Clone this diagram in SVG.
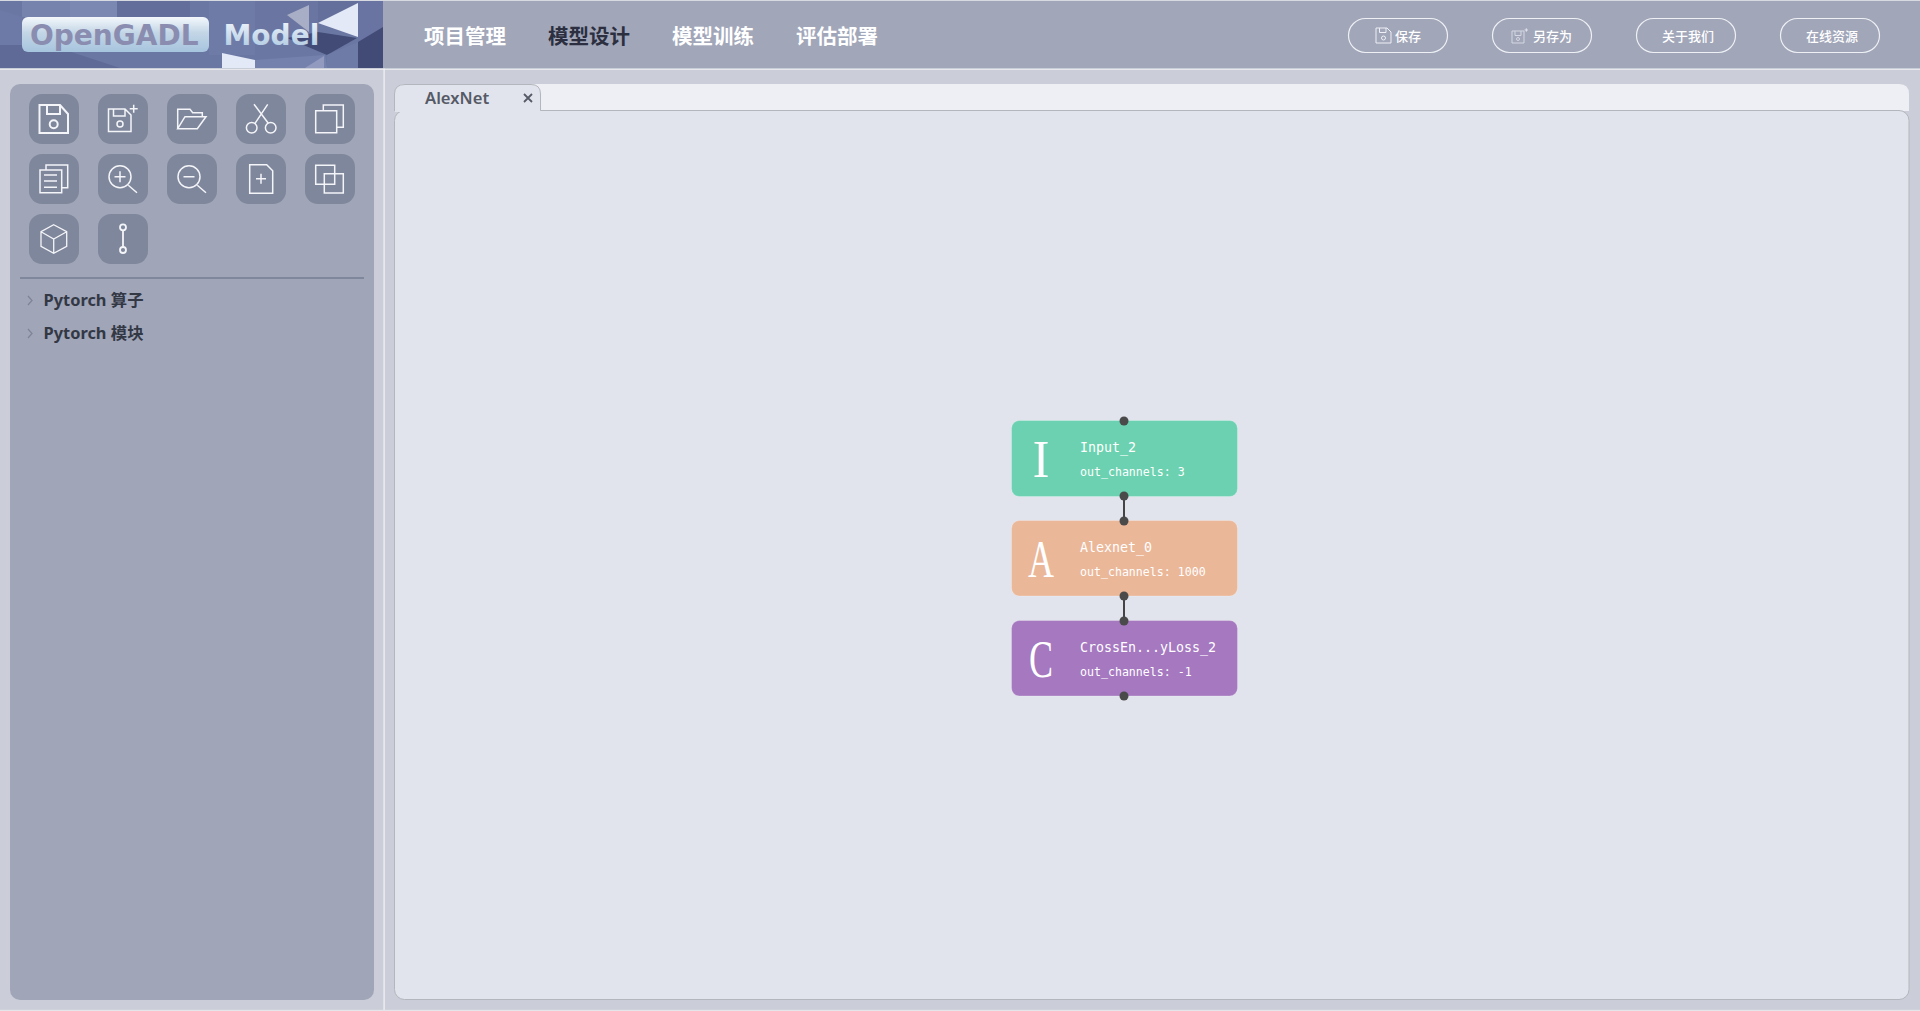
<svg xmlns="http://www.w3.org/2000/svg" width="1920" height="1011" viewBox="0 0 1920 1011">
<style>
.ui{font-family:"Noto Sans","Noto Sans CJK SC",sans-serif}
.cjk{font-family:"Noto Sans CJK SC",sans-serif}
.nav{font-size:20.5px;font-weight:700;fill:#fff}
.btn{fill:none;stroke:#eef0f5;stroke-width:1.2}
.btxt{font-size:13px;font-weight:500;fill:#fff}
.tb{fill:#7f879c}
.ic{fill:none;stroke:#f4f5f8;stroke-width:1.5}
.tree{font-size:16.400px;font-weight:700;fill:#333845}
.nm{font-family:"DejaVu Sans Mono",monospace;font-size:13.3px;fill:#fff}
.ch{font-family:"DejaVu Sans Mono",monospace;font-size:11.6px;fill:#fff}
.big{font-family:"Liberation Serif",serif;font-size:50px;fill:#fff;text-anchor:middle}
.pt{fill:#4a4a4a}
.nb{stroke-opacity:.25;stroke:#fff;stroke-width:1}
</style>
<defs>
<linearGradient id="pill" x1="0" y1="0" x2="0" y2="1"><stop offset="0" stop-color="#f4f8fc"/><stop offset=".45" stop-color="#c3d6e6"/><stop offset="1" stop-color="#a6c4de"/></linearGradient>
<linearGradient id="mdl" x1="0" y1="0" x2="0" y2="1"><stop offset="0" stop-color="#f2f6fb"/><stop offset="1" stop-color="#a9c6e0"/></linearGradient>
</defs>
<rect width="1920" height="1011" fill="#cbced8"/>
<rect x="0" y="0" width="1920" height="69" fill="#a1a6b9"/>
<rect x="0" y="0" width="1920" height="1" fill="#d8dae2"/>
<rect x="0" y="68.500" width="1920" height="1.200" fill="#f2f3f6"/>
<rect x="383.500" y="68.500" width="1.200" height="942.500" fill="#f2f3f6"/>
<rect x="0" y="1009.800" width="1920" height="1.200" fill="#e4e5ea"/>

<g id="logo">
<rect x="0" y="1" width="383" height="67" fill="#6b77a3"/>
<polygon points="22,1 117,1 117,17 22,17" fill="#7683ad"/>
<polygon points="70,1 117,1 117,17 70,17" fill="#7b88b2"/>
<polygon points="117,1 190,1 190,17 117,17" fill="#646e9a"/>
<polygon points="0,10 22,17 22,45 0,45" fill="#6d79a6"/>
<polygon points="0,45 50,45 120,68 0,68" fill="#5f6a96"/>
<polygon points="209,1 255,1 255,55 209,55" fill="#6f7ba7"/>
<polygon points="255,1 318,1 318,23 287,38 255,38" fill="#6a76a1"/>
<polygon points="318,1 358,1 358,3 318,23" fill="#646f9b"/>
<polygon points="358,1 383,1 383,27 358,42" fill="#6a74a2"/>
<polygon points="255,60 325,55 327,68 255,68" fill="#7581ad"/>
<polygon points="287,15 309,5 309,32" fill="#a8aec6"/>
<polygon points="318,23 358,3 358,37" fill="#e3e9f7"/>
<polygon points="318,32 357,38 327,55 287,38" fill="#424b75"/>
<polygon points="358,68 358,42 383,27 383,68" fill="#424b75"/>
<polygon points="327,55 358,42 358,68 327,68" fill="#6f7ba7"/>
<polygon points="305,68 324,56 324,68" fill="#929ac0"/>
<polygon points="222,53 255,60 255,68 222,68" fill="#e3e9f7"/>
<rect x="22" y="17" width="187" height="35" rx="6" fill="url(#pill)"/>
<text x="30" y="45" font-family="DejaVu Sans,sans-serif" font-weight="700" font-size="28" fill="#8a8db0">OpenGADL</text>
<text x="223.500" y="44.500" font-family="DejaVu Sans,sans-serif" font-weight="700" font-size="28" fill="url(#mdl)">Model</text>
</g>

<g id="nav" class="cjk">
<text class="nav" x="424" y="43.500">项目管理</text>
<text class="nav" x="548" y="43.500" style="fill:#2b2f40">模型设计</text>
<text class="nav" x="672" y="43.500">模型训练</text>
<text class="nav" x="796" y="43.500">评估部署</text>
</g>

<g id="header-buttons" class="cjk">
<g id="btn-save"><rect class="btn" x="1348.500" y="18.500" width="99" height="34" rx="17"/>
<path d="M1376 28H1387L1391 32V43H1376ZM1379.500 28V32.500H1386V28" fill="none" stroke="#eef0f5" stroke-width="1"/><circle cx="1383.500" cy="38" r="2" fill="none" stroke="#eef0f5"/>
<text class="btxt" x="1395" y="41">保存</text></g>
<g id="btn-saveas"><rect class="btn" x="1492.500" y="18.500" width="99" height="34" rx="17"/>
<path d="M1512 31H1524V43H1512ZM1515 31V35.500H1521V31" fill="none" stroke="#d5d8e2" stroke-width="1"/><path d="M1524.500 30H1528M1526.300 28.300V31.800" stroke="#eef0f5" stroke-width=".8"/><circle cx="1518" cy="39" r="1.500" fill="none" stroke="#d5d8e2"/>
<text class="btxt" x="1533" y="41">另存为</text></g>
<g id="btn-about"><rect class="btn" x="1636.500" y="18.500" width="99" height="34" rx="17"/>
<text class="btxt" x="1662" y="41">关于我们</text></g>
<g id="btn-online"><rect class="btn" x="1780.500" y="18.500" width="99" height="34" rx="17"/>
<text class="btxt" x="1806" y="41">在线资源</text></g>
</g>

<g id="sidebar">
<rect x="10" y="84" width="364" height="916" rx="10" fill="#a0a5b8"/>
<g id="tool-save" transform="translate(29,94)"><rect class="tb" width="50" height="50" rx="13"/><path class="ic" style="stroke-width:2" d="M10.500 11H31L39 20V39H10.500ZM18 11V20H31V11"/><circle class="ic" style="stroke-width:2" cx="24.700" cy="30.300" r="4"/></g>
<g id="tool-saveas" transform="translate(98,94)"><rect class="tb" width="50" height="50" rx="13"/><path class="ic" d="M10.500 15H27L33 21V37.500H10.500ZM15.500 15V22H27V15M31.700 14.700H39.700M35.700 10.700V18.700"/><circle class="ic" cx="22" cy="30" r="3"/></g>
<g id="tool-open" transform="translate(167,94)"><rect class="tb" width="50" height="50" rx="13"/><path class="ic" d="M10.700 34.700V15.300H23L25.700 18.700H35.300V22.700M10.700 34.700L18 22.700H39L30.300 34.700Z"/></g>
<g id="tool-cut" transform="translate(236,94)"><rect class="tb" width="50" height="50" rx="13"/><circle class="ic" cx="15.700" cy="33.700" r="5.300"/><circle class="ic" cx="34.700" cy="33.700" r="5.300"/><path class="ic" d="M18 10.300L32.300 29.300M31.700 10.300L19 29.300"/></g>
<g id="tool-copy" transform="translate(305,94)"><rect class="tb" width="50" height="50" rx="13"/><path class="ic" d="M10.700 16.700H31.700V38.700H10.700ZM18.300 16.700V11H38.300V33.300H31.700"/></g>
<g id="tool-paste" transform="translate(29,154)"><rect class="tb" width="50" height="50" rx="13"/><path class="ic" d="M11 16H32.700V38.700H11ZM17 16V11H38.700V33.700H32.700M15 21H28M15 27H28M15 33.300H28"/></g>
<g id="tool-zoomin" transform="translate(98,154)"><rect class="tb" width="50" height="50" rx="13"/><circle class="ic" cx="22" cy="22.700" r="11"/><path class="ic" d="M16.500 22.700H27.500M22 17.200V28.200M30.300 31.300L39 38.700"/></g>
<g id="tool-zoomout" transform="translate(167,154)"><rect class="tb" width="50" height="50" rx="13"/><circle class="ic" cx="22" cy="22.700" r="11"/><path class="ic" d="M16.500 22.700H27.500M30.300 31.300L39 38.700"/></g>
<g id="tool-new" transform="translate(236,154)"><rect class="tb" width="50" height="50" rx="13"/><path class="ic" d="M13.700 10.700H30.700L36.700 16.700V39.300H13.700ZM20 24.700H30M25 19.700V29.700"/></g>
<g id="tool-clone" transform="translate(305,154)"><rect class="tb" width="50" height="50" rx="13"/><path class="ic" d="M10.700 11.300H29.700V30.300H10.700ZM19.300 19.700H38.300V39H19.300Z"/></g>
<g id="tool-node" transform="translate(29,214)"><rect class="tb" width="50" height="50" rx="13"/><path class="ic" style="stroke-width:1.300" d="M24.700 10.700L37.700 17.700V32.300L24.700 39.300L12 32.300V17.700ZM12 17.700L24.700 25L37.700 17.700M24.700 25V39.300"/></g>
<g id="tool-link" transform="translate(98,214)"><rect class="tb" width="50" height="50" rx="13"/><path class="ic" style="stroke-width:1.800" d="M25 16.300V33"/><circle class="ic" style="stroke-width:1.800" cx="25" cy="13.300" r="3"/><circle class="ic" style="stroke-width:1.800" cx="25" cy="36" r="3"/></g>
<rect x="20" y="277" width="344" height="2" fill="#7f879c"/>
<path d="M28 296L32 300.500L28 305" fill="none" stroke="#7f8494" stroke-width="1.200"/>
<path d="M28 329L32 333.500L28 338" fill="none" stroke="#7f8494" stroke-width="1.200"/>
<text class="tree ui" x="43.500" y="306">Pytorch 算子</text>
<text class="tree ui" x="43.500" y="339">Pytorch 模块</text>
</g>

<g id="workspace">
<path d="M405 84H1899Q1909 84 1909 94V111H395V94Q395 84 405 84Z" fill="#eeeff4"/>
<rect x="394.500" y="110.500" width="1514.500" height="889" rx="10" fill="#e1e4ed" stroke="#b4b6bd" stroke-width="1"/>
<path d="M394.500 111V94Q394.500 84.500 405 84.500H531Q540.500 84.500 540.500 94V110.500" fill="#e1e4ed" stroke="#b4b6bd" stroke-width="1"/>
<rect x="395" y="108" width="145" height="4" fill="#e1e4ed"/>
<text class="ui" x="425" y="104" font-size="16.600" font-weight="600" fill="#555a66">AlexNet</text>
<path d="M524 94L532 102M532 94L524 102" stroke="#555a66" stroke-width="1.800"/>
</g>

<g id="connectors" stroke="#444" stroke-width="2" fill="none">
<path d="M1124 496V521"/>
<path d="M1124 596V621"/>
</g>

<g id="node-input">
<rect class="nb" x="1011.500" y="420.500" width="226" height="76" rx="8" fill="#6bd1b0"/>
<text class="big" transform="translate(1041,476.500) scale(1,1.050)">I</text>
<text class="nm" x="1080" y="452">Input_2</text>
<text class="ch" x="1080" y="476">out_channels: 3</text>
<circle class="pt" cx="1124" cy="421" r="4.500"/><circle class="pt" cx="1124" cy="496" r="4.500"/>
</g>
<g id="node-alexnet">
<rect class="nb" x="1011.500" y="520.500" width="226" height="75.500" rx="8" fill="#ebb799"/>
<text class="big" transform="translate(1041,576.500) scale(.72,1.050)">A</text>
<text class="nm" x="1080" y="552">Alexnet_0</text>
<text class="ch" x="1080" y="576">out_channels: 1000</text>
<circle class="pt" cx="1124" cy="521" r="4.500"/><circle class="pt" cx="1124" cy="596" r="4.500"/>
</g>
<g id="node-loss">
<rect class="nb" x="1011.500" y="620.500" width="226" height="75.500" rx="8" fill="#a578bf"/>
<text class="big" transform="translate(1041,676.500) scale(.72,1.050)">C</text>
<text class="nm" x="1080" y="652">CrossEn...yLoss_2</text>
<text class="ch" x="1080" y="676">out_channels: -1</text>
<circle class="pt" cx="1124" cy="621" r="4.500"/><circle class="pt" cx="1124" cy="696" r="4.500"/>
</g>
</svg>
